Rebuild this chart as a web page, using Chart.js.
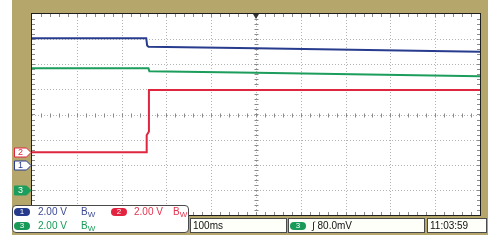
<!DOCTYPE html>
<html>
<head>
<meta charset="utf-8">
<script src="https://cdn.jsdelivr.net/npm/chart.js@4"></script>
<style>
  body { margin: 0; background: #fff; }
  #wrap { position: relative; width: 500px; height: 245px; }
  .box { position: absolute; box-sizing: border-box; border: 1px solid #4a4a4a; background: #fffffa;
         font-family: "Liberation Sans", Arial, sans-serif; font-size: 10px; line-height: 12px; }
  .t { position: absolute; white-space: nowrap; }
  .badge { position: absolute; width: 16px; height: 8px; border-radius: 4px; color: #fff;
           font-size: 8px; line-height: 8px; text-align: center; }
  sub { font-size: 8px; vertical-align: -2px; }
</style>
</head>
<body>
<div id="wrap">
  <canvas id="scope"></canvas>
  <div class="box" style="left:12px;top:205px;width:177px;height:28px;border-radius:4px;background:#fff">
    <div class="badge" style="left:1px;top:2px;background:#253a8c">1</div>
    <div class="t" style="left:25px;top:0px;color:#3c4a96">2.00 V</div>
    <div class="t" style="left:68px;top:0px;color:#3c4a96">B<sub>W</sub></div>
    <div class="badge" style="left:98px;top:2px;background:#e3233f">2</div>
    <div class="t" style="left:121px;top:0px;color:#e3334d">2.00 V</div>
    <div class="t" style="left:160px;top:0px;color:#e3334d">B<sub>W</sub></div>
    <div class="badge" style="left:1px;top:16px;background:#1a9a58">3</div>
    <div class="t" style="left:25px;top:14px;color:#1a9a58">2.00 V</div>
    <div class="t" style="left:68px;top:14px;color:#1a9a58">B<sub>W</sub></div>
  </div>
  <div class="box" style="left:190px;top:218px;width:97px;height:15px">
    <div class="t" style="left:2px;top:1px;color:#111">100ms</div>
  </div>
  <div class="box" style="left:288px;top:218px;width:137px;height:15px">
    <div class="badge" style="left:1px;top:3px;background:#1a9a58">3</div>
    <div class="t" style="left:23px;top:1px;color:#111">&#8747; 80.0mV</div>
  </div>
  <div class="box" style="left:427px;top:218px;width:60px;height:15px">
    <div class="t" style="left:2px;top:1px;color:#111">11:03:59</div>
  </div>
</div>
<script>
// captured traces: time in ms (trigger = 0), voltage in V
const ch1Time = [-500, -245, -243, -240, 0, 500];
const ch1Volt = [10.07, 10.07, 9.5, 9.40, 9.27, 9.00];
const ch2Time = [-500, -244, -244, -239, -239, 500];
const ch2Volt = [0, 0, 1.35, 1.65, 4.95, 4.95];
const ch3Time = [-500, -240, -238, 0, 500];
const ch3Volt = [9.68, 9.68, 9.44, 9.33, 9.04];

// vertical settings per channel
const voltsPerDiv = [2, 2, 2];
const groundDiv = [-2, -1.5, -3];
const traceColors = ['#283c8e', '#e0263f', '#1c9d5c'];

const tan = '#b5a66c'

function toPoints(times, volts, ch) {
    return times.map((t, i) => ({ x: t, y: volts[i] / voltsPerDiv[ch] + groundDiv[ch] }))
}

const scopePlugin = {
    id: 'scope',
    beforeDraw(chart) {
        const c = chart.ctx, a = chart.chartArea
        c.save()
        c.fillStyle = '#fff'
        c.fillRect(0, 0, chart.width, chart.height)
        c.fillStyle = tan
        c.fillRect(12, 0, 476, 235)
        c.fillStyle = '#fff'
        c.fillRect(a.left, a.top, a.right - a.left, a.bottom - a.top)
        c.restore()
    },
    beforeDatasetsDraw(chart) {
        const c = chart.ctx, a = chart.chartArea
        const xs = chart.scales.x, ys = chart.scales.y
        c.save()
        c.strokeStyle = '#b4b4b4'
        c.lineWidth = 1
        c.setLineDash([1, 2])
        // dotted division lines
        for (let t = -400; t <= 400; t += 100) {
            const x = Math.round(xs.getPixelForValue(t)) + 0.5
            c.beginPath(); c.moveTo(x, a.top); c.lineTo(x, a.bottom); c.stroke()
        }
        for (let d = -3; d <= 3; d++) {
            const y = Math.round(ys.getPixelForValue(d)) + 0.5
            c.beginPath(); c.moveTo(a.left, y); c.lineTo(a.right, y); c.stroke()
        }
        c.setLineDash([])
        // minor ticks on centre lines and edges
        c.strokeStyle = '#8a8a8a'
        const cx = Math.round(xs.getPixelForValue(0)) + 0.5
        const cy = Math.round(ys.getPixelForValue(0)) + 0.5
        for (let t = -480; t < 500; t += 20) {
            const x = Math.round(xs.getPixelForValue(t)) + 0.5
            c.beginPath()
            c.moveTo(x, cy - 2); c.lineTo(x, cy + 2)
            c.moveTo(x, a.top); c.lineTo(x, a.top + 3)
            c.moveTo(x, a.bottom); c.lineTo(x, a.bottom - 3)
            c.stroke()
        }
        for (let d = -3.8; d < 4; d += 0.2) {
            const y = Math.round(ys.getPixelForValue(d)) + 0.5
            c.beginPath()
            c.moveTo(cx - 2, y); c.lineTo(cx + 2, y)
            c.moveTo(a.left, y); c.lineTo(a.left + 3, y)
            c.moveTo(a.right, y); c.lineTo(a.right - 3, y)
            c.stroke()
        }
        c.restore()
    },
    afterDatasetsDraw(chart) {
        const c = chart.ctx, a = chart.chartArea
        const xs = chart.scales.x, ys = chart.scales.y
        c.save()
        c.strokeStyle = '#1e1e1e'
        c.lineWidth = 1
        c.strokeRect(a.left - 0.5, a.top - 0.5, a.right - a.left + 1, a.bottom - a.top + 1)
        // trigger position marker
        const tx = xs.getPixelForValue(0)
        c.fillStyle = '#333'
        c.beginPath(); c.moveTo(tx - 3, a.top); c.lineTo(tx + 3, a.top); c.lineTo(tx, a.top + 5); c.fill()
        // channel ground markers
        const marks = [
            { ch: 1, label: '2', fill: '#fff', line: traceColors[1], text: traceColors[1] },
            { ch: 0, label: '1', fill: '#fff', line: traceColors[0], text: traceColors[0] },
            { ch: 2, label: '3', fill: traceColors[2], line: traceColors[2], text: '#fff' }
        ]
        c.font = '9px "Liberation Sans", Arial, sans-serif'
        c.textAlign = 'center'
        c.textBaseline = 'middle'
        marks.forEach(m => {
            const y = Math.round(ys.getPixelForValue(groundDiv[m.ch])) + 0.5
            c.beginPath()
            c.moveTo(14.5, y - 4.5); c.lineTo(26.5, y - 4.5); c.lineTo(31, y)
            c.lineTo(26.5, y + 4.5); c.lineTo(14.5, y + 4.5); c.closePath()
            c.fillStyle = m.fill; c.fill()
            c.strokeStyle = m.line; c.stroke()
            c.fillStyle = m.text
            c.fillText(m.label, 20.5, y + 0.5)
        })
        c.restore()
    }
}

const config = {
    type: 'scatter',
    data: {
        datasets: [
            { label: 'CH1', data: toPoints(ch1Time, ch1Volt, 0), borderColor: traceColors[0] },
            { label: 'CH2', data: toPoints(ch2Time, ch2Volt, 1), borderColor: traceColors[1] },
            { label: 'CH3', data: toPoints(ch3Time, ch3Volt, 2), borderColor: traceColors[2] }
        ].map(d => Object.assign(d, { showLine: true, pointRadius: 0, borderWidth: 2, tension: 0 }))
    },
    options: {
        responsive: true,
        maintainAspectRatio: false,
        animation: false,
        layout: { padding: { left: 32, right: 20, top: 14, bottom: 30 } },
        scales: {
            x: { type: 'linear', min: -500, max: 500, display: false },
            y: { type: 'linear', min: -4, max: 4, display: false }
        },
        plugins: { legend: { display: false }, tooltip: { enabled: false } }
    },
    plugins: [scopePlugin]
}

var scope = new Chart(document.getElementById('scope'), config)
</script>
</body>
</html>
